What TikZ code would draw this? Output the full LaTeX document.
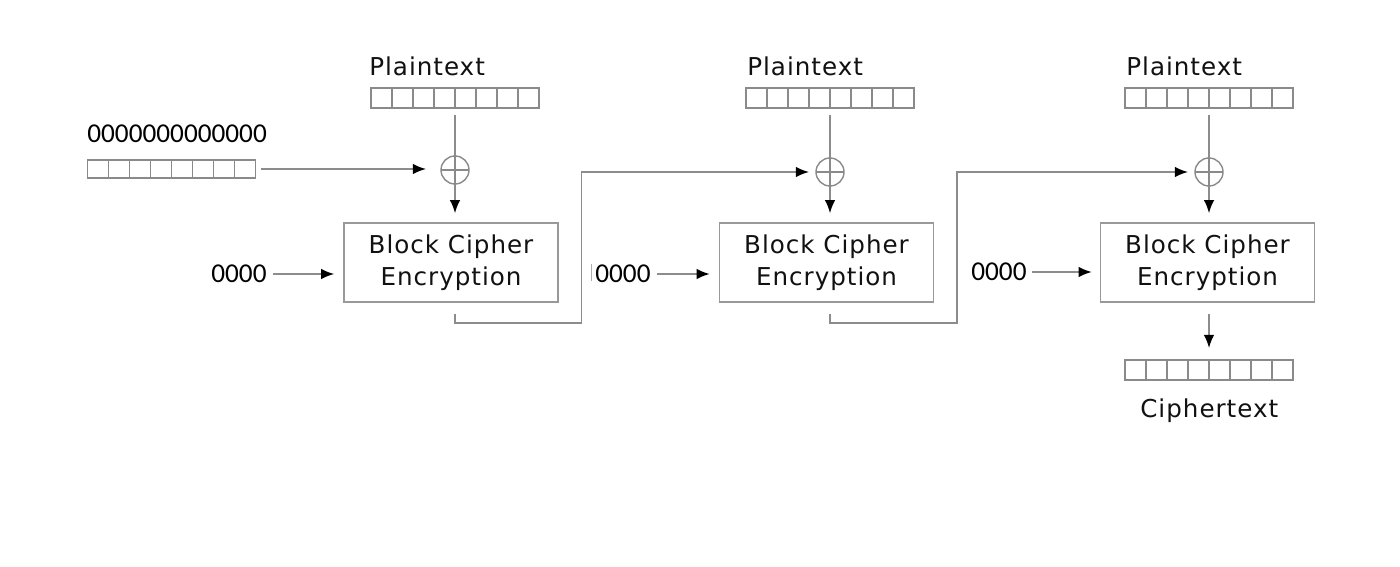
\documentclass[tikz,border=0pt]{standalone}
\usepackage{fontspec}
\setmainfont{DejaVu Sans}[LetterSpace=4]
\newfontfamily\numfont{Carlito}
\usetikzlibrary{arrows.meta,calc}
\definecolor{regc}{HTML}{8A8A8A}
\definecolor{lnc}{HTML}{8C8C8C}
\definecolor{boxc}{HTML}{999999}
\definecolor{txtc}{HTML}{111111}
\newcommand\regcells[1]{%
  \foreach \i in {1,...,7}{%
    \draw[regc,line width=0.9pt] ($(#1.south west)!\i/8!(#1.south east)$) -- ($(#1.north west)!\i/8!(#1.north east)$);}}
\begin{document}
\begin{tikzpicture}[x=0.02cm,y=-0.02cm,
  reg/.style={draw=regc, line width=0.9pt, minimum width=3.36cm, minimum height=0.4cm, inner sep=0pt, outer sep=0pt},
  lbl/.style={inner sep=0pt, anchor=base west, text=txtc, font=\fontsize{14}{16}\selectfont},
  num/.style={inner sep=0pt, anchor=west, text=black, font=\numfont\fontsize{15.5}{18}\selectfont},
  cipher/.style={draw=boxc, line width=0.9pt, minimum width=4.28cm, minimum height=1.58cm, inner sep=0pt, align=center, text=txtc, font=\fontsize{14}{18.2}\selectfont},
  xor/.style={circle, draw=regc, line width=0.8pt, minimum size=0.56cm, inner sep=0pt, outer sep=0pt,
    path picture={\draw[regc,line width=0.8pt] (path picture bounding box.north) -- (path picture bounding box.south) (path picture bounding box.west) -- (path picture bounding box.east);}},
  ln/.style={draw=lnc, line width=0.9pt},
  arr/.style={ln, -{Latex[length=7.5pt,width=6pt,color=black]}}
]
\useasboundingbox (0,0) rectangle (1400,567);
\fill[white] (0,0) rectangle (1400,567);

% ---------- stage 1 ----------
\node[lbl] (ptl1) at (369,76) {Plaintext};
\node[reg] (pt1) at (455,98) {};
\regcells{pt1}
\node[num] (ivl) at (87,133.5) {0000000000000};
\node[reg, minimum height=0.36cm] (iv) at (171.5,169) {};
\regcells{iv}
\node[xor] (xor1) at (455,170) {};
\node[cipher] (box1) at (451,262.5) {Block Cipher\\Encryption};
\node[num] (k1) at (211,274) {0000};

\draw[ln, shorten <=0.14cm] (pt1.south) -- (xor1.north);
\draw[arr, shorten <=0.12cm, shorten >=0.3cm] (iv.east) -- (iv.east -| xor1.west);
\draw[arr, shorten >=0.18cm] (xor1.south) -- (xor1.south |- box1.north);
\draw[arr, shorten <=0.12cm, shorten >=0.18cm] (k1.east) -- (k1.east -| box1.west);

% ---------- stage 2 ----------
\node[lbl] (ptl2) at (747,76) {Plaintext};
\node[reg] (pt2) at (830,98) {};
\regcells{pt2}
\node[xor] (xor2) at (830,172) {};
\node[cipher] (box2) at (826.5,262.5) {Block Cipher\\Encryption};
\node[num] (k2) at (595,274) {0000};
\draw[lnc!70, line width=0.6pt] (591.5,264) -- (591.5,281);

\coordinate (c1) at (581.5,323);
\draw[arr, shorten <=0.22cm, shorten >=0.14cm] (box1.south -| xor1) |- (c1) |- (xor2.west);
\draw[ln, shorten <=0.14cm] (pt2.south) -- (xor2.north);
\draw[arr, shorten >=0.18cm] (xor2.south) -- (xor2.south |- box2.north);
\draw[arr, shorten <=0.12cm, shorten >=0.18cm] (k2.east) -- (k2.east -| box2.west);

% ---------- stage 3 ----------
\node[lbl] (ptl3) at (1126,76) {Plaintext};
\node[reg] (pt3) at (1209,98) {};
\regcells{pt3}
\node[xor] (xor3) at (1209,172) {};
\node[cipher] (box3) at (1207.5,262.5) {Block Cipher\\Encryption};
\node[num] (k3) at (971,272) {0000};
\node[reg] (ct) at (1209,370) {};
\regcells{ct}
\node[lbl] (ctl) at (1140,418) {Ciphertext};

\coordinate (c2) at (957,323);
\draw[arr, shorten <=0.22cm, shorten >=0.14cm] (box2.south -| xor2) |- (c2) |- (xor3.west);
\draw[ln, shorten <=0.14cm] (pt3.south) -- (xor3.north);
\draw[arr, shorten >=0.18cm] (xor3.south) -- (xor3.south |- box3.north);
\draw[arr, shorten <=0.1cm, shorten >=0.16cm] (k3.east) -- (k3.east -| box3.west);
\draw[arr, shorten <=0.22cm, shorten >=0.24cm] (box3.south -| ct) -- (ct.north);
\end{tikzpicture}
\end{document}
